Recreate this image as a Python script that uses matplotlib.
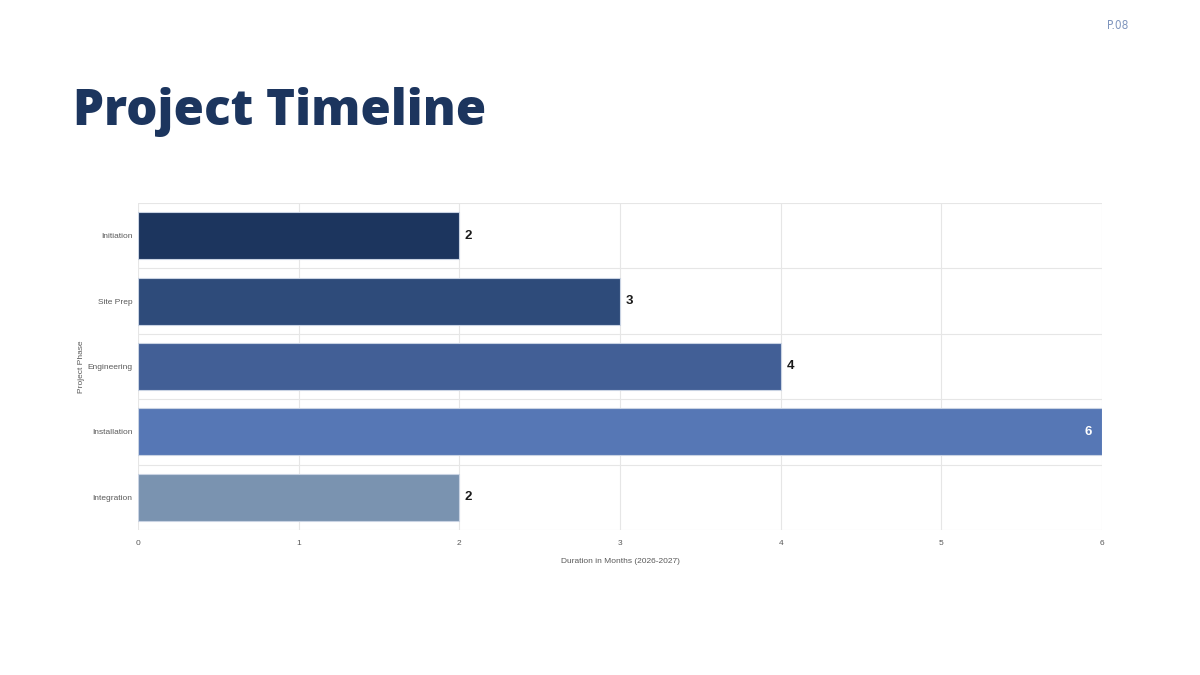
import matplotlib.pyplot as plt
import numpy as np

phases = ["Initiation", "Site Prep", "Engineering", "Installation", "Integration"]
durations = [2, 3, 4, 6, 2]
bar_colors = ["#1c355e", "#2e4b7a", "#425f96", "#5677b5", "#7a93b0"]
x_ticks = [0, 1, 2, 3, 4, 5, 6]

plt.rcParams["font.family"] = ["Liberation Sans", "DejaVu Sans"]

fig = plt.figure(figsize=(12, 6.75), dpi=100)
fig.patch.set_facecolor("white")

# title and page number
fig.text(0.061, 0.815, "Project Timeline", fontsize=35.5, fontweight="heavy",
         color="#1c355e", family=["Open Sans", "DejaVu Sans"], va="baseline")
fig.text(0.94, 0.962, "P.08", fontsize=8.5, color="#7f95bd",
         family=["DejaVu Sans"], fontstretch="condensed", ha="right", va="center")

ax = fig.add_axes([0.115, 0.2148, 0.8033, 0.4845])
y = np.arange(len(phases))
bars = ax.barh(y, durations, height=0.72, color=bar_colors,
               edgecolor="#c9d3e3", linewidth=0.8, zorder=3)

ax.set_xlim(0, 6)
ax.set_ylim(len(phases) - 0.5, -0.5)
ax.set_xticks(x_ticks)
ax.set_yticks(y)
ax.set_yticklabels(phases)
ax.set_yticks(np.arange(-0.5, len(phases), 1), minor=True)

ax.grid(axis="x", which="major", color="#e6e6e6", linewidth=0.8, zorder=0)
ax.grid(axis="y", which="minor", color="#e6e6e6", linewidth=0.8, zorder=0)
ax.grid(axis="y", which="major", visible=False)
ax.tick_params(axis="both", which="both", length=0, colors="#5a5a5a", labelsize=6)
ax.tick_params(axis="x", pad=7)
ax.tick_params(axis="y", pad=4)
for s in ax.spines.values():
    s.set_visible(False)

ax.set_xlabel("Duration in Months (2026-2027)", fontsize=6, color="#5a5a5a", labelpad=8)
ax.set_ylabel("Project Phase", fontsize=6, color="#5a5a5a", labelpad=2)

for b, v in zip(bars, durations):
    yc = b.get_y() + b.get_height() / 2
    if v >= max(durations):
        ax.text(v - 0.06, yc, str(v), ha="right", va="center", fontsize=9.5,
                fontweight="bold", color="white", zorder=4)
    else:
        ax.text(v + 0.035, yc, str(v), ha="left", va="center", fontsize=9.5,
                fontweight="bold", color="#1a1a1a", zorder=4)

fig.savefig("out.png", dpi=100, facecolor="white")
